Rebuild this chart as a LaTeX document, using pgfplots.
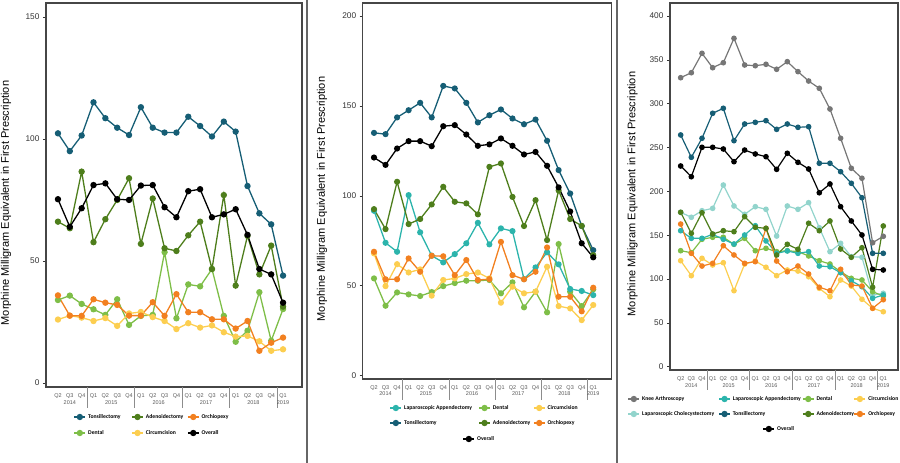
\documentclass[border=0pt]{standalone}
\usepackage{pgfplots}
\pgfplotsset{compat=1.18}
\usepackage{pgfplotstable}
\usepackage{fontspec}
\setmainfont{Liberation Sans}
\newfontfamily\legfam{Carlito}

\definecolor{cTon}{RGB}{22,94,117}
\definecolor{cAde}{RGB}{78,126,28}
\definecolor{cOrc}{RGB}{242,128,32}
\definecolor{cDen}{RGB}{126,190,72}
\definecolor{cCir}{RGB}{252,206,80}
\definecolor{cLapA}{RGB}{44,180,172}
\definecolor{cChol}{RGB}{146,212,204}
\definecolor{cKnee}{RGB}{118,118,118}
\definecolor{cFrame}{RGB}{70,70,70}

\newcommand{\qfont}{\fontsize{5.5}{6}\selectfont}
\newcommand{\legfont}{\legfam\fontsize{5.7}{6.5}\selectfont\bfseries}

\pgfplotstableread{
q ton ade orc den cir ovr
0 102.3 66.1 35.9 34.0 26.0 75.3
1 95.0 63.4 27.6 35.8 27.6 64.0
2 101.4 86.6 27.5 32.4 26.8 71.6
3 115.0 57.7 34.3 30.2 25.4 81.1
4 108.5 67.1 32.9 27.9 26.6 81.8
5 104.6 75.0 32.0 34.3 23.4 75.3
6 101.6 83.9 27.6 23.8 28.5 75.0
7 113.0 57.0 27.6 27.5 29.1 80.9
8 104.6 75.6 33.1 27.9 27.0 81.1
9 102.6 55.2 27.5 53.6 25.4 72.0
10 102.6 54.1 36.4 26.5 22.1 67.9
11 109.1 60.5 29.0 40.4 24.5 78.6
12 105.3 66.1 29.0 39.6 22.7 79.4
13 101.0 46.7 26.1 46.7 23.6 67.9
14 107.1 77.0 26.1 27.5 20.8 69.1
15 103.0 39.9 22.3 16.9 19.0 71.2
16 80.7 60.3 25.4 21.4 19.3 60.7
17 69.5 44.5 13.2 37.2 17.1 46.7
18 65.0 56.3 16.5 17.3 13.2 44.5
19 44.0 31.3 18.6 30.3 13.8 32.9
}\tabA

\pgfplotstableread{
q lapa den cir ton ade orc ovr
0 91.7 54.1 68.0 135.0 92.6 68.9 121.3
1 73.9 38.9 49.8 134.3 81.5 53.6 117.2
2 68.9 46.3 62.0 143.6 107.8 53.6 126.3
3 100.4 45.2 57.4 147.6 84.3 65.2 130.4
4 79.7 44.3 59.1 151.7 87.1 57.8 130.4
5 66.7 46.5 44.5 143.6 95.2 66.7 127.6
6 63.0 49.8 53.2 161.1 105.0 66.4 138.7
7 67.6 51.5 54.1 159.7 96.7 55.9 139.3
8 73.6 52.8 56.5 151.7 95.8 64.3 134.1
9 85.0 52.8 57.4 140.8 89.7 53.2 127.8
10 73.0 53.2 54.1 144.8 116.1 53.7 128.6
11 81.9 45.8 40.6 148.0 118.0 74.4 131.9
12 80.4 51.9 49.5 143.0 99.4 55.9 127.8
13 53.7 38.0 45.8 139.8 83.2 53.6 123.0
14 60.2 46.7 46.7 142.4 97.6 57.8 124.4
15 68.6 35.2 60.6 130.6 75.4 71.3 116.7
16 61.9 73.2 38.7 114.3 103.0 43.9 104.7
17 48.2 46.7 37.4 101.3 87.1 43.9 91.3
18 47.1 38.7 30.9 83.2 83.3 35.8 73.6
19 44.8 48.0 39.3 69.8 67.0 48.9 65.8
}\tabB

\pgfplotstableread{
q knee lapa den cir chol ton ade orc ovr
0 329.6 155.1 132.3 120.9 176.1 264.3 176.1 162.7 228.9
1 335.3 146.4 130.0 103.8 170.4 238.8 152.1 129.3 216.7
2 357.4 146.4 145.3 123.6 177.9 260.5 175.6 114.8 250.2
3 341.0 151.0 147.6 116.0 180.6 289.0 151.3 117.9 250.2
4 346.7 145.3 147.6 118.6 207.2 294.7 155.1 138.0 248.3
5 374.5 139.9 139.6 86.7 183.3 257.8 154.0 127.4 233.8
6 344.1 150.2 146.4 117.1 173.8 276.8 171.1 117.9 247.1
7 343.3 160.8 132.3 120.5 182.5 278.7 159.0 119.8 242.6
8 344.9 143.4 135.0 113.4 179.5 280.6 157.8 157.8 239.5
9 339.2 129.3 131.2 103.8 149.0 270.7 127.4 120.5 225.1
10 347.9 132.0 132.3 110.3 183.3 276.8 139.6 108.3 243.4
11 336.5 129.3 131.2 109.1 179.5 273.0 133.9 114.8 233.1
12 325.8 131.2 126.3 102.6 187.1 273.7 163.6 105.7 225.5
13 317.5 114.8 120.9 89.4 158.5 232.0 155.1 90.6 198.4
14 293.9 114.0 117.1 79.8 131.2 232.0 166.2 86.7 208.4
15 260.5 107.2 108.3 98.9 140.7 222.4 134.2 111.1 182.5
16 226.3 98.0 100.8 92.0 125.5 209.2 124.8 93.2 166.2
17 214.9 91.2 98.9 76.9 124.8 192.7 135.7 92.0 150.2
18 141.4 78.0 85.5 66.6 81.8 129.3 90.6 66.6 111.1
19 148.7 81.8 80.6 62.7 83.7 129.3 160.5 76.4 110.3
}\tabC

\pgfplotsset{
  panel/.style={
    scale only axis, anchor=south west, clip=false,
    axis line style={cFrame, line width=1.1pt},
    xtick={0,...,19},
    xticklabels={Q2,Q3,Q4,Q1,Q2,Q3,Q4,Q1,Q2,Q3,Q4,Q1,Q2,Q3,Q4,Q1,Q2,Q3,Q4,Q1},
    xticklabel style={font=\qfont, text=black!65},
    x tick style={draw=none},
    xtick pos=bottom, ytick pos=left,
    tick align=outside, major tick length=3pt,
    y tick style={black!80, line width=0.6pt},
    yticklabel style={font=\fontsize{8.3}{9}\selectfont, text=black!80},
    /pgf/number format/assume math mode=true,
  },
  ser/.style={line width=1.3pt, mark=*, mark size=#1, mark options={solid}},
  ser/.default=2.5pt,
  legrow/.style={
    hide axis, scale only axis, width=1pt, height=1pt, anchor=south west,
    xmin=0, xmax=1, ymin=0, ymax=1, legend columns=-1,
    legend style={at={(0,0)}, anchor=west, draw=none, fill=none,
      inner sep=0pt, column sep=0pt, font=\legfont,
      nodes={inner xsep=2.2pt, inner ysep=0pt}},
    legend image code/.code={\draw[mark repeat=2, mark phase=2, line width=1.3pt, mark size=2.5pt]
      plot coordinates {(0pt,0pt)(5.5pt,0pt)(11pt,0pt)};},
  },
}

\newcommand{\ysep}[2]{\draw[black!45, line width=1pt] ({axis cs:#1,0}|-{rel axis cs:0,0}) -- ++(0pt,-#2);}
\newcommand{\ylab}[3]{\node[font=\qfont, text=black!65, yshift=-#2] at ({axis cs:#1,0}|-{rel axis cs:0,0}) {#3};}
\newcommand{\years}[2]{%
  \ysep{2.5}{#1}\ysep{6.5}{#1}\ysep{10.5}{#1}\ysep{14.5}{#1}\ysep{18.5}{#1}%
  \ylab{1}{#2}{2014}\ylab{4.5}{#2}{2015}\ylab{8.5}{#2}{2016}%
  \ylab{12.5}{#2}{2017}\ylab{16.5}{#2}{2018}\ylab{19}{#2}{2019}%
}

\begin{document}
\begin{tikzpicture}
\useasboundingbox (0,0) rectangle (900pt,463pt);
\draw[black!60, line width=1.2pt] (307pt,0pt) -- (307pt,463pt);
\draw[black!60, line width=1.2pt] (617pt,0pt) -- (617pt,463pt);

% ---------- Panel 1 ----------
\begin{axis}[panel, at={(46pt,76pt)}, width=256pt, height=384pt,
  xmin=-1.01, xmax=20.6, ymin=-1.64, ymax=155.7, ytick={0,50,100,150}]
\addplot[ser, color=cTon] table[x=q,y=ton]{\tabA};
\addplot[ser, color=cDen] table[x=q,y=den]{\tabA};
\addplot[ser, color=cCir] table[x=q,y=cir]{\tabA};
\addplot[ser, color=cOrc] table[x=q,y=orc]{\tabA};
\addplot[ser, color=cAde] table[x=q,y=ade]{\tabA};
\addplot[ser, color=black] table[x=q,y=ovr]{\tabA};
\years{21pt}{16pt}
\end{axis}
\node[rotate=90, font=\fontsize{11}{12}\selectfont] at (6pt,260pt) {Morphine Milligram Equivalent in First Prescription};

\begin{axis}[legrow, at={(73.5pt,46pt)}]
\addlegendimage{color=cTon, mark=*}\addlegendentry{\makebox[41pt][l]{Tonsillectomy}}
\addlegendimage{color=cAde, mark=*}\addlegendentry{\makebox[39pt][l]{Adenoidectomy}}
\addlegendimage{color=cOrc, mark=*}\addlegendentry{Orchiopexy}
\end{axis}
\begin{axis}[legrow, at={(73.5pt,30pt)}]
\addlegendimage{color=cDen, mark=*}\addlegendentry{\makebox[41pt][l]{Dental}}
\addlegendimage{color=cCir, mark=*}\addlegendentry{\makebox[39pt][l]{Circumcision}}
\addlegendimage{color=black, mark=*}\addlegendentry{Overall}
\end{axis}

% ---------- Panel 2 ----------
\begin{axis}[panel, at={(362.7pt,84pt)}, width=249pt, height=376pt,
  xmin=-0.98, xmax=20.6, ymin=-1.83, ymax=207.2, ytick={0,50,100,150,200}]
\addplot[ser=2.4pt, color=cDen] table[x=q,y=den]{\tabB};
\addplot[ser=2.4pt, color=cCir] table[x=q,y=cir]{\tabB};
\addplot[ser=2.4pt, color=cLapA] table[x=q,y=lapa]{\tabB};
\addplot[ser=2.4pt, color=cOrc] table[x=q,y=orc]{\tabB};
\addplot[ser=2.4pt, color=cTon] table[x=q,y=ton]{\tabB};
\addplot[ser=2.4pt, color=cAde] table[x=q,y=ade]{\tabB};
\addplot[ser=2.4pt, color=black] table[x=q,y=ovr]{\tabB};
\years{21pt}{15pt}
\end{axis}
\node[rotate=90, font=\fontsize{11}{12}\selectfont] at (322pt,264pt) {Morphine Milligram Equivalent in First Prescription};

\begin{axis}[legrow, at={(389.5pt,55pt)}]
\addlegendimage{color=cLapA, mark=*}\addlegendentry{\makebox[72pt][l]{Laparoscopic Appendectomy}}
\addlegendimage{color=cDen, mark=*}\addlegendentry{\makebox[38pt][l]{Dental}}
\addlegendimage{color=cCir, mark=*}\addlegendentry{Circumcision}
\end{axis}
\begin{axis}[legrow, at={(389.5pt,40pt)}]
\addlegendimage{color=cTon, mark=*}\addlegendentry{\makebox[72pt][l]{Tonsillectomy}}
\addlegendimage{color=cAde, mark=*}\addlegendentry{\makebox[38pt][l]{Adenoidectomy}}
\addlegendimage{color=cOrc, mark=*}\addlegendentry{Orchiopexy}
\end{axis}
\begin{axis}[legrow, at={(462.5pt,24pt)}]
\addlegendimage{color=black, mark=*}\addlegendentry{Overall}
\end{axis}

% ---------- Panel 3 ----------
\begin{axis}[panel, at={(670pt,93pt)}, width=228pt, height=367pt,
  xmin=-1.0, xmax=20.38, ymin=-3.76, ymax=414.8, ytick={0,50,...,400}]
\addplot[ser=2.2pt, line width=1.2pt, color=cKnee] table[x=q,y=knee]{\tabC};
\addplot[ser=2.2pt, line width=1.2pt, color=cChol] table[x=q,y=chol]{\tabC};
\addplot[ser=2.2pt, line width=1.2pt, color=cCir] table[x=q,y=cir]{\tabC};
\addplot[ser=2.2pt, line width=1.2pt, color=cDen] table[x=q,y=den]{\tabC};
\addplot[ser=2.2pt, line width=1.2pt, color=cLapA] table[x=q,y=lapa]{\tabC};
\addplot[ser=2.2pt, line width=1.2pt, color=cOrc] table[x=q,y=orc]{\tabC};
\addplot[ser=2.2pt, line width=1.2pt, color=cAde] table[x=q,y=ade]{\tabC};
\addplot[ser=2.2pt, line width=1.2pt, color=cTon] table[x=q,y=ton]{\tabC};
\addplot[ser=2.2pt, line width=1.2pt, color=black] table[x=q,y=ovr]{\tabC};
\years{20pt}{16pt}
\end{axis}
\node[rotate=90, font=\fontsize{11}{12}\selectfont] at (632.5pt,269pt) {Morphine Milligram Equivalent in First Prescription};

\begin{axis}[legrow, at={(627.5pt,64pt)}]
\addlegendimage{color=cKnee, mark=*}\addlegendentry{\makebox[74pt][l]{Knee Arthroscopy}}
\addlegendimage{color=cLapA, mark=*}\addlegendentry{\makebox[67pt][l]{Laparoscopic Appendectomy}}
\addlegendimage{color=cDen, mark=*}\addlegendentry{\makebox[35pt][l]{Dental}}
\addlegendimage{color=cCir, mark=*}\addlegendentry{Circumcision}
\end{axis}
\begin{axis}[legrow, at={(627.5pt,49pt)}]
\addlegendimage{color=cChol, mark=*}\addlegendentry{\makebox[74pt][l]{Laparoscopic Cholecystectomy}}
\addlegendimage{color=cTon, mark=*}\addlegendentry{\makebox[67pt][l]{Tonsillectomy}}
\addlegendimage{color=cAde, mark=*}\addlegendentry{\makebox[35pt][l]{Adenoidectomy}}
\addlegendimage{color=cOrc, mark=*}\addlegendentry{Orchiopexy}
\end{axis}
\begin{axis}[legrow, at={(762.5pt,34pt)}]
\addlegendimage{color=black, mark=*}\addlegendentry{Overall}
\end{axis}
\end{tikzpicture}
\end{document}
